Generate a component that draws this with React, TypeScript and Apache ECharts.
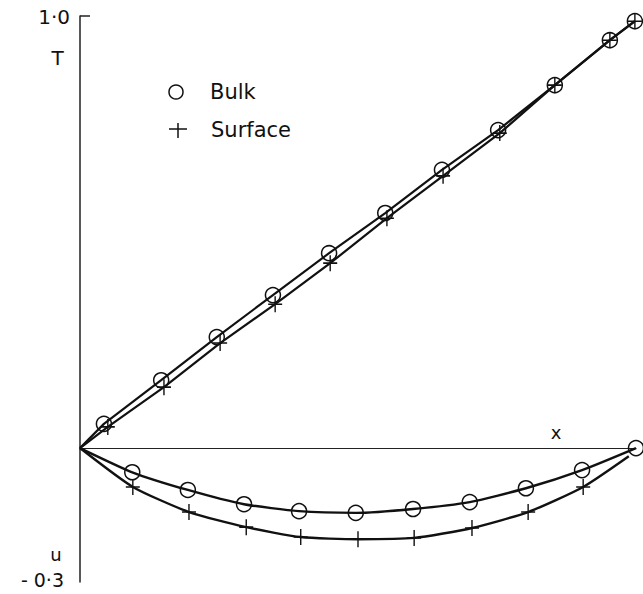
import React, { useEffect, useRef } from "react";
import * as echarts from "echarts";

// Upper pair (T against x)
const bulkTX = [0, 0.043, 0.146, 0.246, 0.347, 0.448, 0.549, 0.651, 0.752, 0.854, 0.953, 0.998];
const bulkTY = [0, 0.056, 0.157, 0.257, 0.354, 0.451, 0.544, 0.644, 0.736, 0.84, 0.944, 0.988];
const surfTX = [0, 0.05, 0.151, 0.252, 0.351, 0.45, 0.552, 0.653, 0.755, 0.854, 0.953, 0.998];
const surfTY = [0, 0.049, 0.141, 0.243, 0.333, 0.428, 0.532, 0.63, 0.729, 0.84, 0.944, 0.988];

// Lower pair (u against x)
const bulkUX = [0, 0.094, 0.194, 0.295, 0.394, 0.496, 0.599, 0.701, 0.802, 0.903, 1.0];
const bulkUY = [0, -0.056, -0.097, -0.13, -0.146, -0.15, -0.141, -0.125, -0.093, -0.051, 0];
const surfUX = [0, 0.095, 0.196, 0.299, 0.397, 0.5, 0.601, 0.705, 0.806, 0.905, 0.987];
const surfUY = [0, -0.09, -0.148, -0.183, -0.206, -0.211, -0.208, -0.185, -0.148, -0.09, -0.019];

const legendNames = ["Bulk", "Surface"];
const yTickLabels = ["1·0", "- 0·3"];
const axisNames = { x: "x", t: "T", u: "u" };

const INK = "#111";
const PLUS = "path://M0,8 L14,8 M7,0 L7,16";

function pts(xs: number[], ys: number[], markLast = true) {
  return xs.map((x, i) => {
    const item: any = { value: [x, ys[i]] };
    if (i === 0 || (!markLast && i === xs.length - 1)) item.symbol = "none";
    return item;
  });
}

export default function App() {
  const ref = useRef<HTMLDivElement>(null);
  useEffect(() => {
    if (!ref.current) return;
    const chart = echarts.init(ref.current, null, { renderer: "svg" });
    const circleStyle = {
      symbol: "circle",
      symbolSize: 15,
      itemStyle: { color: "rgba(0,0,0,0)", borderColor: INK, borderWidth: 1.5 },
    };
    const plusStyle = {
      symbol: PLUS,
      symbolSize: [14, 16],
      itemStyle: { color: "rgba(0,0,0,0)", borderColor: INK, borderWidth: 1.5 },
    };
    const font = "DejaVu Sans";
    chart.setOption({
      animation: false,
      backgroundColor: "#fff",
      grid: { left: 80, right: 7, top: 16, bottom: 12 },
      xAxis: {
        type: "value",
        min: 0,
        max: 1,
        axisLine: { show: true, onZero: true, lineStyle: { color: "#222", width: 1.2 } },
        axisTick: { show: false },
        axisLabel: { show: false },
        splitLine: { show: false },
      },
      yAxis: {
        type: "value",
        min: -0.31,
        max: 1.0,
        axisLine: { show: true, onZero: false, lineStyle: { color: "#222", width: 1.5 } },
        axisTick: {
          show: true,
          inside: true,
          length: 10,
          customValues: [1.0],
          lineStyle: { color: "#222", width: 1.5 },
        },
        axisLabel: { show: false },
        splitLine: { show: false },
      },
      series: [
        {
          name: legendNames[0],
          type: "line",
          data: pts(bulkTX, bulkTY),
          lineStyle: { color: INK, width: 2.2 },
          ...circleStyle,
          silent: true,
        },
        {
          name: legendNames[1],
          type: "line",
          data: pts(surfTX, surfTY),
          lineStyle: { color: INK, width: 2.2 },
          ...plusStyle,
          silent: true,
        },
        {
          name: legendNames[0],
          type: "line",
          smooth: 0.2,
          data: pts(bulkUX, bulkUY),
          lineStyle: { color: INK, width: 2.4 },
          ...circleStyle,
          silent: true,
        },
        {
          name: legendNames[1],
          type: "line",
          smooth: 0.2,
          data: pts(surfUX, surfUY, false),
          lineStyle: { color: INK, width: 2.4 },
          ...plusStyle,
          silent: true,
        },
      ],
      graphic: [
        // legend
        { type: "circle", shape: { cx: 176, cy: 92, r: 7 }, style: { fill: "none", stroke: INK, lineWidth: 1.5 } },
        { type: "text", x: 210, y: 92, style: { text: legendNames[0], font: `21px "${font}"`, fill: INK, verticalAlign: "middle" } },
        { type: "line", shape: { x1: 169, y1: 129, x2: 187, y2: 129 }, style: { stroke: INK, lineWidth: 1.5 } },
        { type: "line", shape: { x1: 178, y1: 123, x2: 178, y2: 138 }, style: { stroke: INK, lineWidth: 1.5 } },
        { type: "text", x: 211, y: 130, style: { text: legendNames[1], font: `21px "${font}"`, fill: INK, verticalAlign: "middle" } },
        // axis labels
        { type: "text", x: 70, y: 17, style: { text: yTickLabels[0], font: `20px "${font}"`, fill: INK, align: "right", verticalAlign: "middle" } },
        { type: "text", x: 64, y: 580, style: { text: yTickLabels[1], font: `19px "${font}"`, fill: INK, align: "right", verticalAlign: "middle" } },
        { type: "text", x: 57.5, y: 58, style: { text: axisNames.t, font: `20px "${font}"`, fill: INK, align: "center", verticalAlign: "middle" } },
        { type: "text", x: 56, y: 554, style: { text: axisNames.u, font: `18px "${font}"`, fill: INK, align: "center", verticalAlign: "middle" } },
        { type: "text", x: 556, y: 432, style: { text: axisNames.x, font: `18px "${font}"`, fill: INK, align: "center", verticalAlign: "middle" } },
      ],
    });
    return () => chart.dispose();
  }, []);
  return (
    <div
      ref={ref}
      style={{ position: "fixed", left: 0, top: 0, width: 643, height: 594, background: "#fff" }}
    />
  );
}
